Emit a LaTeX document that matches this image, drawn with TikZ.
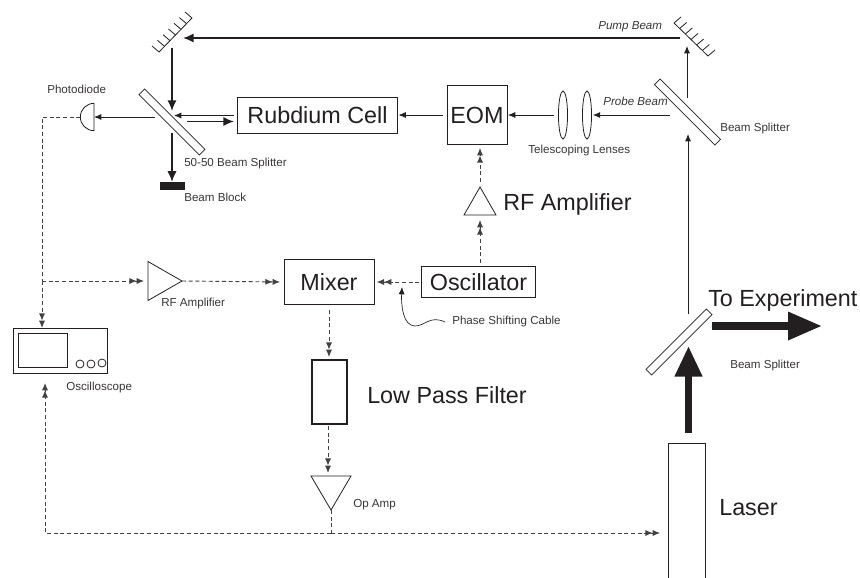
\documentclass[tikz,border=0pt]{standalone}
\usepackage{fontspec}
\setmainfont{Liberation Sans}
\usetikzlibrary{shapes.geometric, calc, arrows.meta, positioning}

\definecolor{ink}{HTML}{231F20}
\tikzset{
    big/.style={font=\fontsize{17.5}{20}\selectfont, text=ink, inner sep=0pt},
    small/.style={font=\fontsize{8.7}{10}\selectfont, text=ink!90, inner sep=0pt},
    tag/.style={small, font=\fontsize{8.7}{10}\selectfont\itshape},
    box/.style={draw=ink, line width=0.6pt, inner sep=0pt, outer sep=0pt},
    splitter/.style={box, minimum width=64pt, minimum height=6pt},
    lens/.style={box, ellipse, minimum width=6.8pt, minimum height=36pt},
    amp/.style={box, isosceles triangle, isosceles triangle stretches},
    beam/.style={draw=ink, line width=0.6pt, -{Latex[length=5.5pt,width=4.5pt]}},
    heavy/.style={draw=ink, line width=1.3pt, -{Latex[length=8pt,width=7pt]}},
    signal/.style={draw=ink!85, line width=0.7pt, dash pattern=on 3pt off 2pt},
    sigarrow/.style={signal, -{Latex[length=5.5pt,width=4.6pt]Latex[length=5.5pt,width=4.6pt]}}
}

\begin{document}
\begin{tikzpicture}[x=0.75pt, y=-0.75pt]
    \useasboundingbox (0,0) rectangle (860,578);

    \node[box, minimum width=119.5pt, minimum height=27pt, big] (cell) at (317.5,115) {Rubdium Cell};
    \node[box, minimum width=45pt, minimum height=44.5pt, big] (eom) at (477,115) {EOM};
    \node[lens] (lensA) at (563,115) {};
    \node[lens] (lensB) at (587,115) {};
    \node[box, minimum width=85pt, minimum height=23pt, big] (oscillator) at (478.5,282) {Oscillator};
    \node[box, minimum width=67.5pt, minimum height=33.5pt, big] (mixer) at (329,282) {Mixer};
    \node[box, line width=1.1pt, minimum width=26pt, minimum height=48pt] (filter) at (329.5,392) {};
    \node[box, minimum width=70.5pt, minimum height=33.8pt] (scope) at (60,350.5) {};
    \node[box, minimum width=36.8pt, minimum height=25.5pt, anchor=north west] (screen) at (18,333) {};
    \node[box, circle, minimum size=6pt] (knobA) at (80,364) {};
    \node[box, circle, minimum size=6pt] (knobB) at (91,364) {};
    \node[box, circle, minimum size=6pt] (knobC) at (102,363) {};
    \node[splitter, rotate=-45] (splitA) at (172,122) {};
    \node[splitter, rotate=-45] (splitB) at (687.5,112) {};
    \node[splitter, rotate=45] (splitC) at (679,342) {};
    \node[box, semicircle, minimum width=20.5pt, rotate=90, anchor=chord center] (diode) at (94,117) {};
    \node[draw=ink, fill=ink, inner sep=0pt, minimum width=18pt, minimum height=5pt] (block) at (172,185.5) {};
    \node[amp, minimum width=24pt, minimum height=21pt, rotate=90, anchor=apex] (ampUp) at (480,187) {};
    \node[amp, minimum width=29.25pt, minimum height=25.5pt, anchor=apex] (ampRight) at (182,281) {};
    \node[amp, minimum width=30pt, minimum height=25.5pt, rotate=-90, anchor=apex] (opamp) at (331,510) {};

    \coordinate (mirrorA1) at (192,18);
    \coordinate (mirrorA2) at (159,52);
    \coordinate (mirrorB1) at (674,23);
    \coordinate (mirrorB2) at (708,56);
    \draw[draw=ink, line width=0.6pt] (mirrorA1) -- (mirrorA2);
    \draw[draw=ink, line width=0.6pt] (mirrorB1) -- (mirrorB2);
    \foreach \i in {0,...,6} {
        \draw[draw=ink, line width=0.6pt] ($(mirrorA1)!\i/6!(mirrorA2)$) -- ++(-7,-6);
        \draw[draw=ink, line width=0.6pt] ($(mirrorB1)!\i/6!(mirrorB2)$) -- ++(7,-6);
    }

    \draw[draw=ink, line width=0.6pt] (668,578) -- (668,443) -- (705,443) -- (705,578);
    \coordinate (laserN) at (688.5,433);

    \draw[heavy] (680,38) coordinate (pumpstart) -- (183,38) coordinate (pumpend);
    \draw[heavy] (172,48) coordinate (mirrordown) -- (172,111) coordinate (splitin);
    \draw[heavy] (172,133) coordinate (splitout) -- (block.north);
    \draw[heavy] (187,121.5) coordinate (cellback) -- (234,121.5) coordinate (cellfront);
    \draw[beam] (234,115.5) coordinate (cellout) -- (174,115.5) coordinate (splitface);
    \draw[beam] (155,117) coordinate (splitback) -- (diode.chord center);
    \draw[beam, shorten <=3pt, shorten >=1pt] (eom.west) -- (cell.east);
    \draw[beam, shorten <=3pt, shorten >=0.7pt] (lensA.west) -- (eom.east);
    \draw[beam, shorten >=1pt] (670,115) coordinate (probestart) -- (lensB.east);
    \draw[beam] (687,98) coordinate (splitup) -- (687,46) coordinate (mirrorin);
    \draw[beam] (688,314) coordinate (splitCup) -- (688,134) coordinate (splitBin);

    \draw[line width=5.5pt, ink, -{Triangle[length=23pt,width=19.5pt]}] (laserN) -- (688.5,346) coordinate (splitCin);
    \draw[line width=5.5pt, ink, -{Triangle[length=25.5pt,width=20pt]}] (712,326) coordinate (splitCout) -- (822,326) coordinate (experiment);

    \draw[signal] (diode.apex) -| (42,281) coordinate (tee);
    \draw[sigarrow] (tee) -- (scope.north -| tee);
    \draw[sigarrow, shorten >=3pt] (tee) -- (ampRight.lower side);
    \draw[sigarrow, shorten >=3pt] (ampRight.apex) -- (mixer.west);
    \draw[sigarrow, shorten <=2pt, shorten >=2pt] (oscillator.west) -- (mixer.east);
    \draw[sigarrow] (480,263) coordinate (oscup) -- (480,220) coordinate (ampUpin);
    \draw[sigarrow] (480,182) coordinate (ampUpout) -- (480,148) coordinate (eomin);
    \draw[sigarrow] (329,310) coordinate (mixerout) -- (329,357) coordinate (filterin);
    \draw[sigarrow] (328,426) coordinate (filterout) -- (328,473) coordinate (opampin);
    \draw[signal] (opamp.apex) -- (331,533) coordinate (opampfoot);
    \draw[sigarrow] (opampfoot) -- (660,533) coordinate (laserin);
    \draw[sigarrow] (opampfoot) -- (45,533) -- (45,383) coordinate (scopein);

    \draw[draw=ink, line width=0.5pt, -{Latex[length=5.5pt,width=4.5pt]}] (445,322) coordinate (cablelabel)
        .. controls (430,315) and (425,326) .. (415,326)
        .. controls (403,326) and (401,305) .. (402,287);

    \node[big, anchor=base west] (lblAmpUp) at (503,210) {RF Amplifier};
    \node[big, anchor=base west] (lblFilter) at (367,403) {Low Pass Filter};
    \node[big, anchor=base west] (lblLaser) at (719,515) {Laser};
    \node[big, anchor=base west] (lblExperiment) at (708,306) {To Experiment};
    \node[small, anchor=base west] (lblDiode) at (47,93) {Photodiode};
    \node[small, anchor=base west] (lblSplitA) at (184,166) {50-50 Beam Splitter};
    \node[small, anchor=base west] (lblBlock) at (184,201) {Beam Block};
    \node[small, anchor=base west] (lblLenses) at (528,153) {Telescoping Lenses};
    \node[small, anchor=base west] (lblSplitB) at (720,131) {Beam Splitter};
    \node[small, anchor=base west] (lblSplitC) at (730,368) {Beam Splitter};
    \node[small, anchor=base west] (lblAmpRight) at (161,306) {RF Amplifier};
    \node[small, anchor=base west] (lblCable) at (452,324) {Phase Shifting Cable};
    \node[small, anchor=base west] (lblScope) at (66,390) {Oscilloscope};
    \node[small, anchor=base west] (lblOpamp) at (353,507) {Op Amp};
    \node[tag, anchor=base west] (lblPump) at (598,29) {Pump Beam};
    \node[tag, anchor=base west] (lblProbe) at (603,105) {Probe Beam};
\end{tikzpicture}
\end{document}
